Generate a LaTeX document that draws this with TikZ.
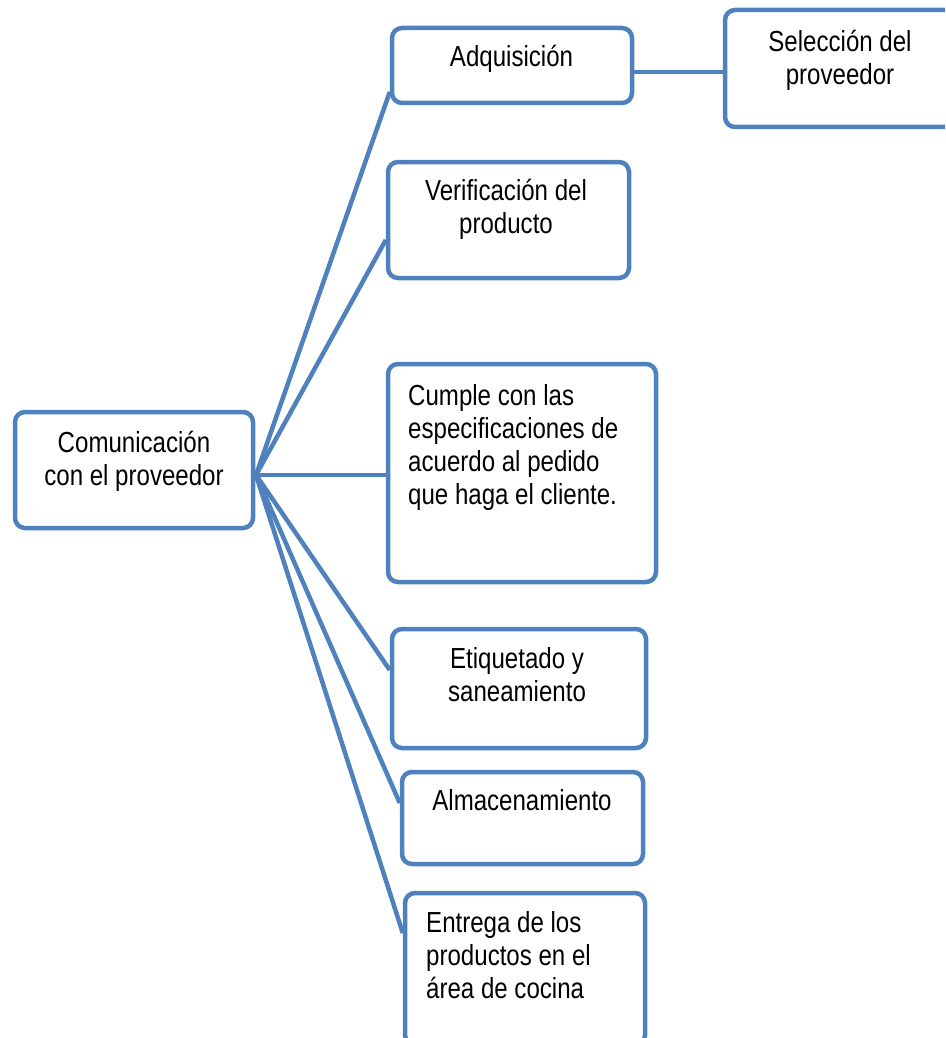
\documentclass[tikz,border=0pt]{standalone}
\usepackage{fontspec}
\setmainfont{Liberation Sans}[FakeStretch=0.83]
\definecolor{boxblue}{HTML}{4F81BD}
\newcommand{\blocktext}[2]{\begin{tabular}[t]{@{}#1@{}}#2\end{tabular}}
\begin{document}
\begin{tikzpicture}[x=1pt,y=-1pt,
  box/.style={draw=boxblue, line width=4.5pt, rounded corners=10pt, fill=white, inner sep=0pt},
  lbl/.style={inner sep=0pt, anchor=base, font=\fontsize{29}{33}\selectfont},
  link/.style={draw=boxblue, line width=4.5pt}]
\useasboundingbox (0,0) rectangle (945,1038);
\clip (0,0) rectangle (945,1038);

% boxes
\node[box, minimum width=238pt, minimum height=116pt] (com) at (134,470) {};
\node[box, minimum width=240pt, minimum height=75pt] (adq) at (512,65.5) {};
\node[box, minimum width=230pt, minimum height=117pt] (sel) at (840,68.5) {};
\node[box, minimum width=241pt, minimum height=116pt] (ver) at (508.5,220) {};
\node[box, minimum width=268pt, minimum height=218pt] (cum) at (522,473) {};
\node[box, minimum width=254pt, minimum height=119pt] (eti) at (519,688.5) {};
\node[box, minimum width=241pt, minimum height=92pt] (alm) at (522.5,818) {};
\node[box, minimum width=240pt, minimum height=152pt] (ent) at (525,969) {};

% junction
\coordinate (J) at (256,475);

% connectors
\draw[link] (J) -- ([yshift=-26.5pt]adq.west);
\draw[link] (J) -- ([yshift=-20pt]ver.west);
\draw[link] (J) -- ([yshift=-2pt]cum.west);
\draw[link] (J) -- ([yshift=18.5pt]eti.west);
\draw[link] (J) -- ([yshift=15pt]alm.west);
\draw[link] (J) -- ([yshift=36pt]ent.west);
\draw[link] ([yshift=-6.5pt,xshift=-4pt]adq.east) -- ([yshift=-6.5pt]adq.east -| sel.west);

% texts
\node[lbl] (comt) at (134,452) {\blocktext{c}{Comunicación\\con el proveedor}};
\node[lbl] (adqt) at (511.5,67) {Adquisición};
\node[lbl] (selt) at (840,52) {\blocktext{c}{Selección del\\proveedor}};
\node[lbl] (vert) at (506,200) {\blocktext{c}{Verificación del\\producto}};
\node[lbl, anchor=base west] (cumt) at (408,405) {\blocktext{l}{Cumple con las\\especificaciones de\\acuerdo al pedido\\que haga el cliente.}};
\node[lbl] (etit) at (517,668) {\blocktext{c}{Etiquetado y\\saneamiento}};
\node[lbl] (almt) at (522,810) {Almacenamiento};
\node[lbl, anchor=base west] (entt) at (426,932) {\blocktext{l}{Entrega de los\\productos en el\\área de cocina}};
\end{tikzpicture}
\end{document}
